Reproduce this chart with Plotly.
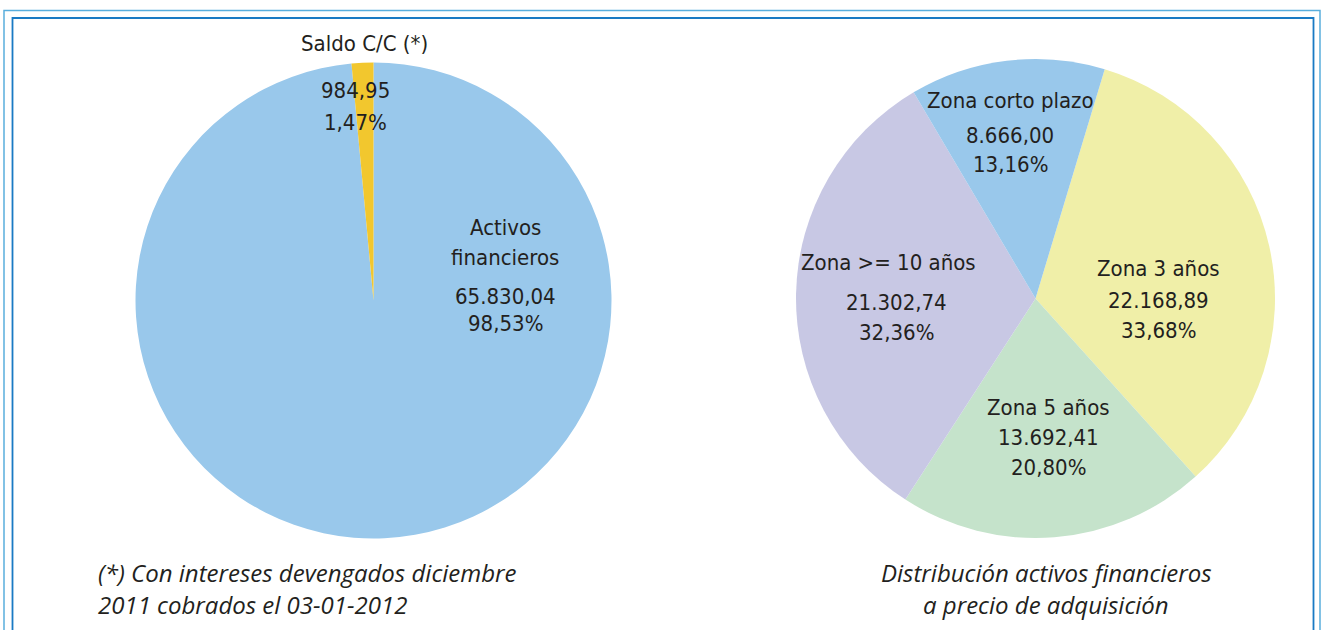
import plotly.graph_objects as go

# Portfolio composition
cartera_labels = ["Activos financieros", "Saldo C/C (*)"]
cartera_values = [65830.04, 984.95]
cartera_colors = ["#99C8EB", "#F2C72E"]

# Distribution of financial assets by maturity zone
zona_labels = ["Zona 3 años", "Zona 5 años", "Zona >= 10 años", "Zona corto plazo"]
zona_values = [22168.89, 13692.41, 21302.74, 8666.00]
zona_colors = ["#F0EFA8", "#C5E3CB", "#C8C8E4", "#99C8EB"]

nota_cartera = ["(*) Con intereses devengados diciembre", "2011 cobrados el 03-01-2012"]
nota_zonas = ["Distribución activos financieros", "a precio de adquisición"]

W, H = 1321, 630
LABEL_FONT = "DejaVu Sans Condensed, Liberation Sans Narrow, Roboto, sans-serif"
NOTE_FONT = "Open Sans, Lato, sans-serif"
TXT = "#231F20"


def es_num(v):
    s = f"{v:,.2f}"
    return s.replace(",", "X").replace(".", ",").replace("X", ".")


def es_pct(v, total):
    return f"{100 * v / total:.2f}".replace(".", ",") + "%"


def px_x(x):
    return x / W


def px_y(y):
    return 1 - y / H


def domain(cx, cy, r):
    return dict(x=[px_x(cx - r), px_x(cx + r)], y=[px_y(cy + r), px_y(cy - r)])


fig = go.Figure()

fig.add_trace(go.Pie(
    labels=cartera_labels, values=cartera_values, sort=False,
    direction="clockwise", rotation=0,
    marker=dict(colors=cartera_colors, line=dict(width=0)),
    textinfo="none", hoverinfo="label+value+percent",
    domain=domain(373.5, 300.5, 238), showlegend=False,
))

fig.add_trace(go.Pie(
    labels=zona_labels, values=zona_values, sort=False,
    direction="clockwise", rotation=16.8,
    marker=dict(colors=zona_colors, line=dict(width=0)),
    textinfo="none", hoverinfo="label+value+percent",
    domain=domain(1035.5, 298.5, 239.5), showlegend=False,
))

annotations = []


def label(x, y, text, size=22):
    annotations.append(dict(
        x=px_x(x), y=px_y(y), xref="paper", yref="paper", text=text,
        showarrow=False, xanchor="center", yanchor="middle",
        font=dict(family=LABEL_FONT, size=size, color=TXT),
    ))


tot_c = sum(cartera_values)
# Activos financieros
label(505, 227, "Activos")
label(505, 257, "financieros")
label(505, 296, es_num(cartera_values[0]))
label(505, 324, es_pct(cartera_values[0], tot_c))
# Saldo C/C
label(365, 44, cartera_labels[1])
label(355, 91, es_num(cartera_values[1]))
label(355, 123, es_pct(cartera_values[1], tot_c))

tot_z = sum(zona_values)
zona_pos = {
    "Zona 3 años": [(1158, 268), (1158, 300), (1158, 330)],
    "Zona 5 años": [(1048, 407), (1048, 437), (1048, 467)],
    "Zona >= 10 años": [(888, 262), (896, 302), (896, 332)],
    "Zona corto plazo": [(1010, 101), (1010, 135), (1010, 165)],
}
for name, val in zip(zona_labels, zona_values):
    p = zona_pos[name]
    label(p[0][0], p[0][1], name)
    label(p[1][0], p[1][1], es_num(val))
    label(p[2][0], p[2][1], es_pct(val, tot_z))

# Italic captions
for i, line in enumerate(nota_cartera):
    annotations.append(dict(
        x=px_x(96), y=px_y(572 + 32 * i), xref="paper", yref="paper", text=line,
        showarrow=False, xanchor="left", yanchor="middle",
        font=dict(family=NOTE_FONT, size=24, color=TXT, style="italic"),
    ))
for i, line in enumerate(nota_zonas):
    annotations.append(dict(
        x=px_x(1046), y=px_y(572 + 32 * i), xref="paper", yref="paper", text=line,
        showarrow=False, xanchor="center", yanchor="middle",
        font=dict(family=NOTE_FONT, size=24, color=TXT, style="italic"),
    ))

# Double frame around the panel
shapes = [
    dict(type="rect", xref="paper", yref="paper",
         x0=px_x(4), x1=px_x(1320), y0=px_y(660), y1=px_y(10.5),
         line=dict(color="#5AAEDD", width=1.5), fillcolor="rgba(0,0,0,0)"),
    dict(type="rect", xref="paper", yref="paper",
         x0=px_x(12.5), x1=px_x(1313.5), y0=px_y(660), y1=px_y(18),
         line=dict(color="#1A7AC4", width=1.8), fillcolor="rgba(0,0,0,0)"),
]

fig.update_layout(
    width=W, height=H,
    margin=dict(l=0, r=0, t=0, b=0),
    paper_bgcolor="white", plot_bgcolor="white",
    annotations=annotations, shapes=shapes,
)

fig.write_html("out.html", config={"displayModeBar": False})
